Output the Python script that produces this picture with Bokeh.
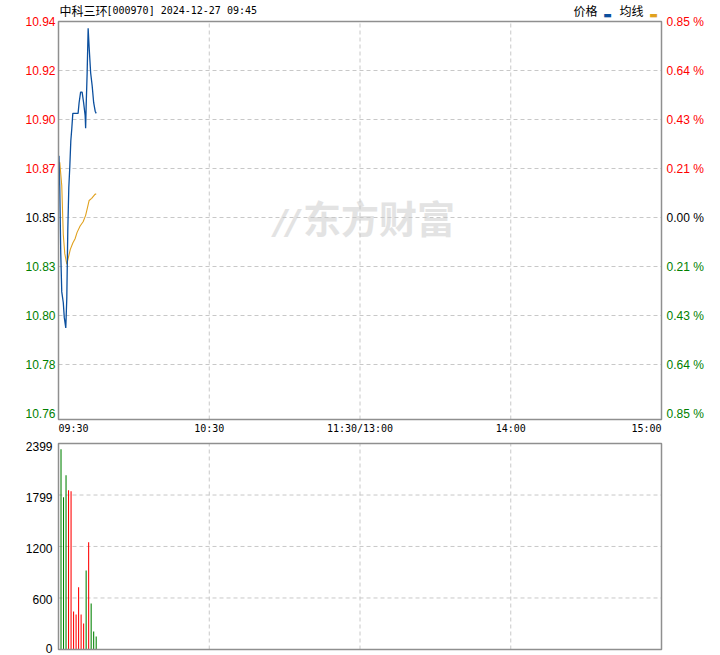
from bokeh.plotting import figure
from bokeh.models import Range1d
from bokeh.core.properties import value
from bokeh.embed import file_html
from bokeh.resources import INLINE

# ---------------- data ----------------
stock_name = "中科三环"
stock_code = "[000970]"
stamp = "2024-12-27 09:45"
legend_price = "价格"
legend_avg = "均线"
watermark = "东方财富"

prev_close = 10.85
max_pct = 0.85

price_labels = ["10.94", "10.92", "10.90", "10.87", "10.85", "10.83", "10.80", "10.78", "10.76"]
pct_labels = ["0.85 %", "0.64 %", "0.43 %", "0.21 %", "0.00 %", "0.21 %", "0.43 %", "0.64 %", "0.85 %"]
time_ticks = [0, 60, 120, 180, 240]
time_labels = ["09:30", "10:30", "11:30/13:00", "14:00", "15:00"]
vol_ticks = [0, 600, 1200, 1799, 2399]

# minutes after 09:30
price_t = [0.2, 0.5, 0.9, 1.3, 1.9, 2.3, 2.9, 3.3, 3.7, 4.1, 4.5, 4.9, 5.3, 5.7, 7.8,
           8.2, 8.8, 9.4, 10.0, 10.6, 10.8, 11.0, 11.4, 11.8, 12.2, 12.8, 13.4, 14.0, 14.6, 15.0]
price_v = [10.879, 10.864, 10.833, 10.815, 10.810, 10.803, 10.798, 10.812, 10.844, 10.864,
           10.874, 10.886, 10.892, 10.899, 10.899, 10.904, 10.909, 10.909, 10.904, 10.898,
           10.892, 10.902, 10.918, 10.939, 10.930, 10.918, 10.912, 10.904, 10.900, 10.899]

avg_t = [0.5, 1.3, 1.9, 2.5, 3.3, 3.9, 4.7, 5.7, 6.6, 7.4, 8.6, 9.8, 10.8, 11.6, 12.2, 13.2, 14.6, 15.0]
avg_v = [10.876, 10.865, 10.842, 10.833, 10.828, 10.831, 10.835, 10.838, 10.840, 10.843,
         10.846, 10.848, 10.851, 10.855, 10.858, 10.859, 10.861, 10.861]

vol_t = [1, 2, 3, 4, 5, 6, 7, 8, 9, 10, 11, 12, 13, 14, 15]
vol_v = [2332, 1772, 2029, 1854, 1842, 443, 408, 726, 408, 303, 921, 1248, 536, 210, 152]
vol_up = [0, 0, 0, 1, 1, 1, 1, 1, 1, 1, 0, 1, 0, 0, 0]

# ---------------- style / layout (pixels) ----------------
UP = "#ff0000"
DOWN = "#008000"
FLAT = "#000000"
BLUE = "#0b4f9e"
ORANGE = "#e0a11e"
GRID = "#c8c8c8"
FRAME = "#8f8f8f"
WM = "#e3e3e3"

W, H = 720, 655
PX_LEFT, PX_RIGHT = 58, 661          # panel left / right
MAIN_TOP, MAIN_LOW_LEVEL, MAIN_BOTTOM = 21, 413, 419
VOL_TOP, VOL_BOTTOM = 443, 649

half = prev_close * max_pct / 100.0
y_top = prev_close + half
ppx = (2 * half) / (MAIN_LOW_LEVEL - MAIN_TOP)
y_box_bottom = y_top - (MAIN_BOTTOM - MAIN_TOP) * ppx

mpx = (time_ticks[-1] - time_ticks[0]) / (PX_RIGHT - PX_LEFT)
vpx = vol_ticks[-1] / (VOL_BOTTOM - VOL_TOP)

levels = [prev_close + half * k / 4 for k in range(4, -5, -1)]
level_colors = [UP if k > 0 else (FLAT if k == 0 else DOWN) for k in range(4, -5, -1)]

p = figure(width=W, height=H,
           x_range=Range1d(time_ticks[0] - PX_LEFT * mpx, time_ticks[-1] + (W - PX_RIGHT) * mpx),
           y_range=Range1d(y_top - (H - MAIN_TOP) * ppx, y_top + MAIN_TOP * ppx),
           output_backend="svg", toolbar_location=None, title=None,
           x_axis_location=None, y_axis_location=None, min_border=0)
p.extra_y_ranges = {"vol": Range1d(-(H - VOL_BOTTOM) * vpx, VOL_BOTTOM * vpx)}
p.outline_line_color = None
p.grid.visible = False
p.background_fill_color = "white"
p.border_fill_color = "white"

x0, x1 = time_ticks[0], time_ticks[-1]
xc = (x0 + x1) / 2

# watermark (under everything)
p.text(x=[xc], y=[prev_close], text=[watermark], x_offset=19, y_offset=-1,
       text_font=value("Noto Sans CJK SC"), text_font_style="bold", text_font_size="38px",
       text_color=WM, text_align="center", text_baseline="middle")
p.text(x=[xc], y=[prev_close], text=["//"], x_offset=-73, y_offset=4,
       text_font=value("DejaVu Sans"), text_font_style="bold italic", text_font_size="34px",
       text_color=WM, text_align="center", text_baseline="middle")

# grids
inner_t = time_ticks[1:-1]
p.segment(x0=inner_t, y0=[y_box_bottom] * len(inner_t), x1=inner_t, y1=[y_top] * len(inner_t),
          line_color=GRID, line_dash="4 3", line_width=1)
inner_l = levels[1:-1]
p.segment(x0=[x0] * len(inner_l), y0=inner_l, x1=[x1] * len(inner_l), y1=inner_l,
          line_color=GRID, line_dash="4 3", line_width=1)
p.segment(x0=inner_t, y0=[vol_ticks[0]] * len(inner_t), x1=inner_t, y1=[vol_ticks[-1]] * len(inner_t),
          line_color=GRID, line_dash="4 3", line_width=1, y_range_name="vol")
inner_v = vol_ticks[1:-1]
p.segment(x0=[x0] * len(inner_v), y0=inner_v, x1=[x1] * len(inner_v), y1=inner_v,
          line_color=GRID, line_dash="4 3", line_width=1, y_range_name="vol")

# data
p.line(avg_t, avg_v, line_color=ORANGE, line_width=1.1)
p.line(price_t, price_v, line_color=BLUE, line_width=1.3)
p.vbar(x=vol_t, top=vol_v, bottom=0, width=0.42, y_range_name="vol",
       fill_color=[UP if u else DOWN for u in vol_up], line_color=None)

# panel frames
p.quad(left=[x0], right=[x1], bottom=[y_box_bottom], top=[y_top],
       fill_color=None, line_color=FRAME, line_width=1.5)
p.quad(left=[x0], right=[x1], bottom=[vol_ticks[0]], top=[vol_ticks[-1]],
       fill_color=None, line_color=FRAME, line_width=1.5, y_range_name="vol")

# axis labels
lab_font = value("Liberation Sans")
p.text(x=[x0] * 9, y=levels, text=price_labels, text_color=level_colors, x_offset=-3,
       text_align="right", text_baseline="middle", text_font=lab_font, text_font_size="12px")
p.text(x=[x1] * 9, y=levels, text=pct_labels, text_color=level_colors, x_offset=5,
       text_align="left", text_baseline="middle", text_font=lab_font, text_font_size="12px")
p.text(x=[x0] * len(vol_ticks), y=vol_ticks, text=[str(t) for t in vol_ticks], text_color="#000000",
       x_offset=-6, y_offset=[-1.5, 2, 2, 2, 2.5], text_align="right", text_baseline="middle",
       text_font=lab_font, text_font_size="12px", y_range_name="vol")

tf = value("DejaVu Sans Mono")
p.text(x=time_ticks[:1], y=[y_box_bottom], text=time_labels[:1], y_offset=9, text_align="left",
       text_baseline="middle", text_font=tf, text_font_size="10px", text_color="#000000")
p.text(x=time_ticks[1:-1], y=[y_box_bottom] * 3, text=time_labels[1:-1], y_offset=9, text_align="center",
       text_baseline="middle", text_font=tf, text_font_size="10px", text_color="#000000")
p.text(x=time_ticks[-1:], y=[y_box_bottom], text=time_labels[-1:], y_offset=9, text_align="right",
       text_baseline="middle", text_font=tf, text_font_size="10px", text_color="#000000")

# header / legend
cjk = value("Noto Sans CJK SC")
p.text(x=[x0], y=[y_top], text=[stock_name], x_offset=1, y_offset=-11, text_align="left",
       text_baseline="middle", text_font=cjk, text_font_size="12px", text_color="#000000")
p.text(x=[x0], y=[y_top], text=[stock_code + " " + stamp], x_offset=48, y_offset=-11, text_align="left",
       text_baseline="middle", text_font=tf, text_font_size="10px", text_color="#000000")
p.text(x=[x1], y=[y_top], text=[legend_price], x_offset=-88, y_offset=-11, text_align="left",
       text_baseline="middle", text_font=cjk, text_font_size="12px", text_color="#000000")
p.text(x=[x1], y=[y_top], text=[legend_avg], x_offset=-42, y_offset=-11, text_align="left",
       text_baseline="middle", text_font=cjk, text_font_size="12px", text_color="#000000")
p.text(x=[x1, x1], y=[y_top, y_top], text=["▬", "▬"], x_offset=[-54, -8], y_offset=-6.5,
       text_align="center", text_baseline="middle", text_font=value("DejaVu Sans"),
       text_font_size="9px", text_color=[BLUE, ORANGE])

open("out.html", "w").write(file_html(p, INLINE))
